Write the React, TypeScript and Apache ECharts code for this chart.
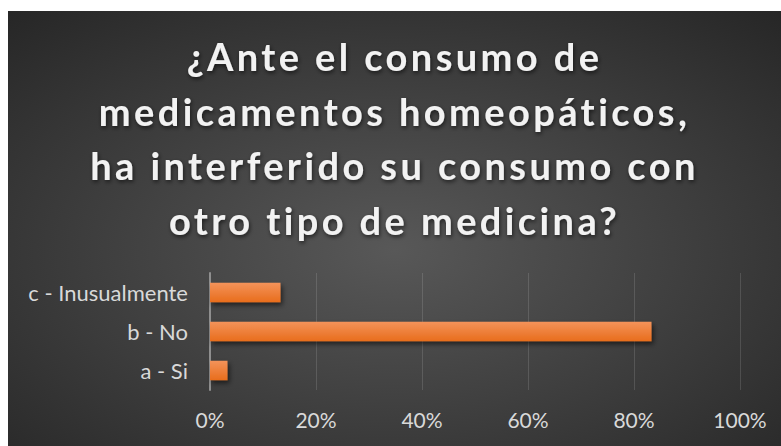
import React, { useEffect, useRef } from "react";
import * as echarts from "echarts";

const titleLines = [
  "¿Ante el consumo de",
  "medicamentos homeopáticos,",
  "ha interferido su consumo con",
  "otro tipo de medicina?",
];
const categories = ["a - Si", "b - No", "c - Inusualmente"];
const values = [0.033, 0.833, 0.133];
const xTicks = { min: 0, max: 1, interval: 0.2 };

export default function App() {
  const ref = useRef<HTMLDivElement>(null);
  useEffect(() => {
    if (!ref.current) return;
    const chart = echarts.init(ref.current, undefined, { renderer: "svg" });
    chart.setOption({
      animation: false,
      backgroundColor: {
        type: "radial",
        x: 0.5,
        y: 0.55,
        r: 0.75,
        colorStops: [
          { offset: 0, color: "#585858" },
          { offset: 1, color: "#262626" },
        ],
      },
      title: {
        text: titleLines.join("\n"),
        left: "center",
        top: 13,
        textStyle: {
          fontFamily: "Lato",
          fontWeight: "bold",
          fontSize: 38,
          lineHeight: 54.5,
          color: "#f2f2f2",
          textShadowColor: "rgba(0,0,0,0.6)",
          textShadowBlur: 4,
          textShadowOffsetX: 1,
          textShadowOffsetY: 2,
        },
      },
      grid: { left: 202, right: 41, top: 262, bottom: 56, containLabel: false },
      xAxis: {
        type: "value",
        min: xTicks.min,
        max: xTicks.max,
        interval: xTicks.interval,
        axisLine: { show: false },
        axisTick: { show: false },
        axisLabel: {
          color: "#d9d9d9",
          fontFamily: "Lato",
          fontSize: 21,
          margin: 19,
          formatter: (v: number) => Math.round(v * 100) + "%",
        },
        splitLine: { lineStyle: { color: "rgba(255,255,255,0.13)", width: 1 } },
      },
      yAxis: {
        type: "category",
        data: categories,
        axisLine: { show: true, lineStyle: { color: "#8f8f8f", width: 2 } },
        axisTick: { show: false },
        axisLabel: {
          color: "#d9d9d9",
          fontFamily: "Lato",
          fontSize: 22,
          margin: 22,
        },
      },
      series: [
        {
          type: "bar",
          data: values,
          barWidth: "50%",
          itemStyle: {
            color: {
              type: "linear",
              x: 0,
              y: 0,
              x2: 0,
              y2: 1,
              colorStops: [
                { offset: 0, color: "#f4935a" },
                { offset: 1, color: "#e86d1c" },
              ],
            },
            shadowColor: "rgba(0,0,0,0.55)",
            shadowBlur: 5,
            shadowOffsetX: 2,
            shadowOffsetY: 3,
          },
        },
      ],
    });
    return () => chart.dispose();
  }, []);
  return (
    <>
      <style>{`#chartbox svg text[style*="bold"]{letter-spacing:3.4px;}`}</style>
      <div
        id="chartbox"
        ref={ref}
        style={{ position: "absolute", left: 8, top: 11, width: 773, height: 435 }}
      />
    </>
  );
}
